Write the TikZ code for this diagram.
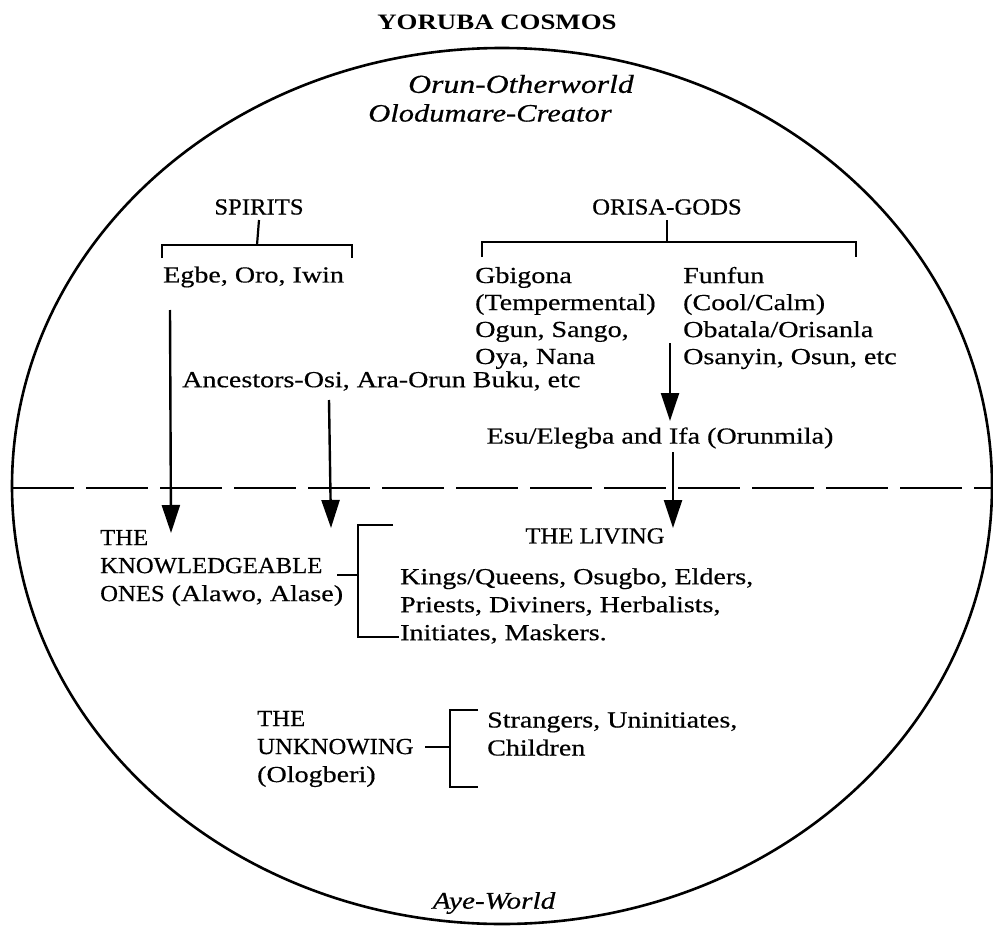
\documentclass[tikz,border=0pt]{standalone}
\usepackage{fontspec}
\setmainfont{Liberation Serif}[FakeStretch=1.22, UprightFeatures={FakeBold=0.5}, ItalicFeatures={FakeBold=0.5}]
\usetikzlibrary{arrows.meta}
\newcommand\capsq[1]{\scalebox{0.88}[1]{#1}}
\begin{document}
\begin{tikzpicture}[x=1pt,y=-1pt,
  txt/.style={inner sep=0pt, font=\fontsize{23}{28}\selectfont, align=left},
  ttl/.style={inner sep=0pt, font=\fontsize{22}{26}\selectfont\bfseries},
  itl/.style={inner sep=0pt, font=\fontsize{25}{28}\selectfont\itshape},
  brk/.style={line width=2.2pt},
  arr/.style={line width=2.4pt, -{Triangle[length=28pt,width=18pt]}},
  divide/.style={line width=2.2pt, dash pattern=on 62pt off 12pt}]
\useasboundingbox (0,0) rectangle (993,931);
% cosmos
\draw[line width=2.6pt] (502,486) ellipse [x radius=490pt, y radius=438pt];
\coordinate (dl) at (12,488);
\coordinate (dr) at (992,488);
\draw[divide] (dl) -- (dr);
% titles
\node[ttl] (title) at (497,22) {YORUBA COSMOS};
\node[itl, font=\fontsize{26}{28}\selectfont\itshape] (orun) at (521,84) {Orun-Otherworld};
\node[itl] (olod) at (490,113) {Olodumare-Creator};
\node[itl, font=\fontsize{24}{28}\selectfont\itshape] (aye) at (494,903) {Aye-World};
% spirits
\node[txt] (spirits) at (259,207) {\capsq{SPIRITS}};
\node[txt, anchor=west] (egbe) at (163,277) {Egbe, Oro, Iwin};
\coordinate (sp1) at (162,258);
\coordinate (sp2) at (162,245);
\coordinate (sp3) at (352,245);
\coordinate (sp4) at (352,258);
\coordinate (spm) at (257,245);
\draw[brk] (sp1) -- (sp2) -- (sp3) -- (sp4);
\draw[brk] (spirits.south |- 0,220) -- (spm);
% orisa
\node[txt] (orisa) at (667,207) {\capsq{ORISA-GODS}};
\coordinate (or1) at (482,257);
\coordinate (or2) at (482,242);
\coordinate (or3) at (856,242);
\coordinate (or4) at (856,257);
\coordinate (orm) at (667,242);
\coordinate (ort) at (667,220);
\draw[brk] (or1) -- (or2) -- (or3) -- (or4);
\draw[brk] (ort) -- (orm);
\node[txt, anchor=west, font=\fontsize{23}{27}\selectfont] (gbig) at (475,318)
  {Gbigona\\(Tempermental)\\Ogun, Sango,\\Oya, Nana};
\node[txt, anchor=west, font=\fontsize{23}{27}\selectfont] (funfun) at (683,318)
  {Funfun\\(Cool/Calm)\\Obatala/Orisanla\\Osanyin, Osun, etc};
% ancestors
\node[txt, anchor=west] (anc) at (182,381) {Ancestors-Osi, Ara-Orun Buku, etc};
\node[txt] (esu) at (660,438) {Esu/Elegba and Ifa (Orunmila)};
% arrows
\coordinate (a1s) at (170,310);
\coordinate (a1e) at (171,533);
\coordinate (a2s) at (329,400);
\coordinate (a2e) at (331,528);
\coordinate (a3s) at (670,343);
\coordinate (a3e) at (670,421);
\coordinate (a4s) at (673,452);
\coordinate (a4e) at (673,528);
\draw[arr] (a1s) -- (a1e);
\draw[arr] (a2s) -- (a2e);
\draw[arr] (a3s) -- (a3e);
\draw[arr] (a4s) -- (a4e);
% knowledgeable
\node[txt, anchor=west] (know) at (100,568) {\capsq{THE}\\\capsq{KNOWLEDGEABLE}\\\capsq{ONES} (Alawo, Alase)};
\node[txt] (living) at (595,536) {\capsq{THE LIVING}};
\node[txt, anchor=west] (kings) at (400,606)
  {Kings/Queens, Osugbo, Elders,\\Priests, Diviners, Herbalists,\\Initiates, Maskers.};
\coordinate (k1) at (393,525);
\coordinate (k2) at (358,525);
\coordinate (k3) at (358,637);
\coordinate (k4) at (399,637);
\coordinate (km) at (358,575);
\coordinate (kt) at (337,575);
\draw[brk] (k1) -- (k2) -- (k3) -- (k4);
\draw[brk] (kt) -- (km);
% unknowing
\node[txt, anchor=west] (unk) at (257,749) {\capsq{THE}\\\capsq{UNKNOWING}\\(Ologberi)};
\node[txt, anchor=west] (strang) at (487,734) {Strangers, Uninitiates,\\Children};
\coordinate (u1) at (478,710);
\coordinate (u2) at (450,710);
\coordinate (u3) at (450,787);
\coordinate (u4) at (478,787);
\coordinate (um) at (450,747);
\coordinate (ut) at (425,747);
\draw[brk] (u1) -- (u2) -- (u3) -- (u4);
\draw[brk] (ut) -- (um);
\end{tikzpicture}
\end{document}
